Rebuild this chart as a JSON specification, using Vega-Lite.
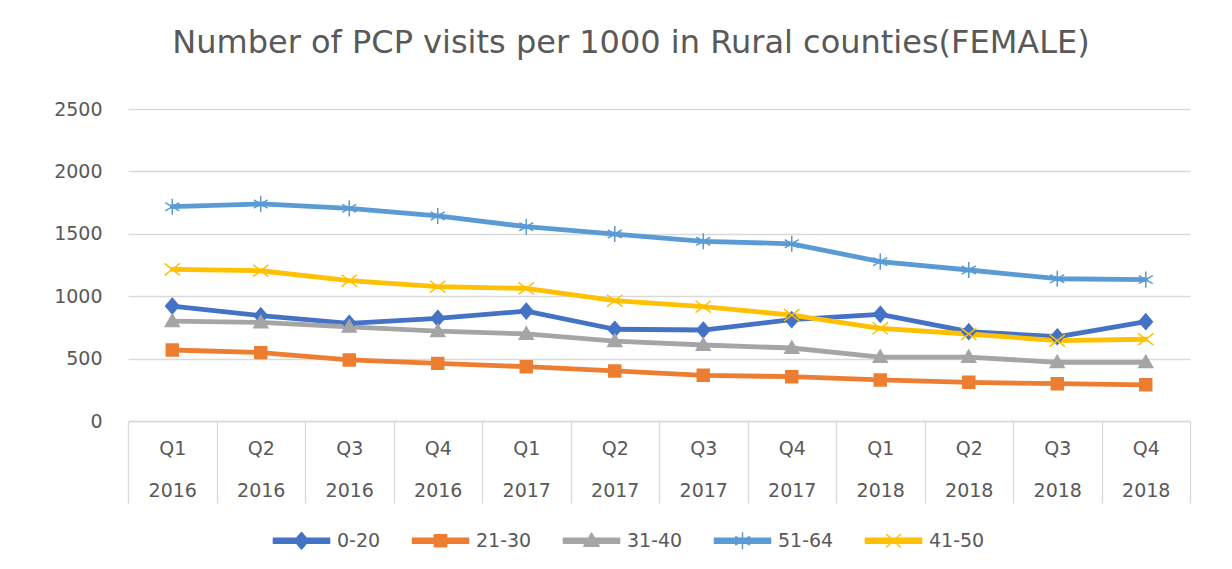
{
  "$schema": "https://vega.github.io/schema/vega-lite/v6.json",
  "autosize": {"type": "none"},
  "padding": {"left": 128, "top": 109, "right": 42, "bottom": 148},
  "width": 1062,
  "height": 312,
  "background": "white",
  "config": {
    "font": "DejaVu Sans",
    "view": {"stroke": null}
  },
  "title": {
    "text": "Number of PCP visits per 1000 in Rural counties(FEMALE)",
    "fontSize": 32,
    "font": "DejaVu Sans",
    "fontWeight": "normal",
    "color": "#595959",
    "anchor": "middle",
    "dx": -28,
    "offset": 40
  },
  "data": {
    "values": [
      {"period": "Q1 2016", "series": "0-20", "value": 921},
      {"period": "Q2 2016", "series": "0-20", "value": 844},
      {"period": "Q3 2016", "series": "0-20", "value": 783},
      {"period": "Q4 2016", "series": "0-20", "value": 823},
      {"period": "Q1 2017", "series": "0-20", "value": 881},
      {"period": "Q2 2017", "series": "0-20", "value": 735},
      {"period": "Q3 2017", "series": "0-20", "value": 729},
      {"period": "Q4 2017", "series": "0-20", "value": 812},
      {"period": "Q1 2018", "series": "0-20", "value": 855},
      {"period": "Q2 2018", "series": "0-20", "value": 716},
      {"period": "Q3 2018", "series": "0-20", "value": 675},
      {"period": "Q4 2018", "series": "0-20", "value": 796},
      {"period": "Q1 2016", "series": "21-30", "value": 569},
      {"period": "Q2 2016", "series": "21-30", "value": 548},
      {"period": "Q3 2016", "series": "21-30", "value": 489},
      {"period": "Q4 2016", "series": "21-30", "value": 462},
      {"period": "Q1 2017", "series": "21-30", "value": 435},
      {"period": "Q2 2017", "series": "21-30", "value": 401},
      {"period": "Q3 2017", "series": "21-30", "value": 366},
      {"period": "Q4 2017", "series": "21-30", "value": 355},
      {"period": "Q1 2018", "series": "21-30", "value": 329},
      {"period": "Q2 2018", "series": "21-30", "value": 310},
      {"period": "Q3 2018", "series": "21-30", "value": 299},
      {"period": "Q4 2018", "series": "21-30", "value": 290},
      {"period": "Q1 2016", "series": "31-40", "value": 800},
      {"period": "Q2 2016", "series": "31-40", "value": 790},
      {"period": "Q3 2016", "series": "31-40", "value": 755},
      {"period": "Q4 2016", "series": "31-40", "value": 720},
      {"period": "Q1 2017", "series": "31-40", "value": 698},
      {"period": "Q2 2017", "series": "31-40", "value": 640},
      {"period": "Q3 2017", "series": "31-40", "value": 609},
      {"period": "Q4 2017", "series": "31-40", "value": 585},
      {"period": "Q1 2018", "series": "31-40", "value": 512},
      {"period": "Q2 2018", "series": "31-40", "value": 512},
      {"period": "Q3 2018", "series": "31-40", "value": 470},
      {"period": "Q4 2018", "series": "31-40", "value": 470},
      {"period": "Q1 2016", "series": "51-64", "value": 1717},
      {"period": "Q2 2016", "series": "51-64", "value": 1739},
      {"period": "Q3 2016", "series": "51-64", "value": 1704},
      {"period": "Q4 2016", "series": "51-64", "value": 1643},
      {"period": "Q1 2017", "series": "51-64", "value": 1557},
      {"period": "Q2 2017", "series": "51-64", "value": 1498},
      {"period": "Q3 2017", "series": "51-64", "value": 1440},
      {"period": "Q4 2017", "series": "51-64", "value": 1420},
      {"period": "Q1 2018", "series": "51-64", "value": 1277},
      {"period": "Q2 2018", "series": "51-64", "value": 1210},
      {"period": "Q3 2018", "series": "51-64", "value": 1140},
      {"period": "Q4 2018", "series": "51-64", "value": 1133},
      {"period": "Q1 2016", "series": "41-50", "value": 1215},
      {"period": "Q2 2016", "series": "41-50", "value": 1204},
      {"period": "Q3 2016", "series": "41-50", "value": 1124},
      {"period": "Q4 2016", "series": "41-50", "value": 1076},
      {"period": "Q1 2017", "series": "41-50", "value": 1063},
      {"period": "Q2 2017", "series": "41-50", "value": 964},
      {"period": "Q3 2017", "series": "41-50", "value": 916},
      {"period": "Q4 2017", "series": "41-50", "value": 849},
      {"period": "Q1 2018", "series": "41-50", "value": 743},
      {"period": "Q2 2018", "series": "41-50", "value": 697},
      {"period": "Q3 2018", "series": "41-50", "value": 644},
      {"period": "Q4 2018", "series": "41-50", "value": 655}
    ]
  },
  "encoding": {
    "x": {
      "field": "period",
      "type": "ordinal",
      "sort": ["Q1 2016","Q2 2016","Q3 2016","Q4 2016","Q1 2017","Q2 2017","Q3 2017","Q4 2017","Q1 2018","Q2 2018","Q3 2018","Q4 2018"],
      "scale": {"type": "band", "paddingInner": 0, "paddingOuter": 0},
      "axis": {
        "title": null,
        "labelExpr": "isValid(datum.value) ? split(datum.value, ' ') : ''",
        "labelAngle": 0,
        "labelLineHeight": 42,
        "labelFontSize": 19,
        "labelFont": "DejaVu Sans",
        "labelColor": "#595959",
        "labelPadding": -64,
        "labelBaseline": "top",
        "domainColor": "#d9d9d9",
        "domainWidth": 1.3,
        "tickBand": "extent",
        "tickSize": 82,
        "tickColor": "#d9d9d9",
        "tickWidth": 1.3,
        "grid": false
      }
    },
    "y": {
      "field": "value",
      "type": "quantitative",
      "scale": {"domain": [0, 2500], "nice": false},
      "axis": {
        "title": null,
        "values": [0, 500, 1000, 1500, 2000, 2500],
        "format": "d",
        "domain": false,
        "ticks": false,
        "grid": true,
        "gridColor": "#d9d9d9",
        "gridWidth": 1.3,
        "labelFontSize": 19,
        "labelFont": "DejaVu Sans",
        "labelColor": "#595959",
        "labelPadding": 26
      }
    }
  },
  "layer": [
    {
      "mark": {"type": "line", "strokeWidth": 4.8, "strokeJoin": "round", "strokeCap": "round"},
      "encoding": {
        "color": {
          "field": "series",
          "type": "nominal",
          "sort": ["0-20", "21-30", "31-40", "51-64", "41-50"],
          "scale": {
            "domain": ["0-20", "21-30", "31-40", "51-64", "41-50"],
            "range": ["#4472C4", "#ED7D31", "#A5A5A5", "#5B9BD5", "#FFC000"]
          },
          "legend": {
            "title": null,
            "orient": "none",
            "direction": "horizontal",
            "legendX": 142,
            "legendY": 400,
            "symbolSize": 3721,
            "symbolStrokeWidth": 1.5,
            "labelFontSize": 19,
            "labelFont": "DejaVu Sans",
            "labelColor": "#595959",
            "labelOffset": 4,
            "columnPadding": 28,
            "encode": {
              "symbols": {
                "update": {
                  "shape": {"signal": "datum.value === '0-20' ? 'M-0.92,-0.08L0.92,-0.08L0.92,0.08L-0.92,0.08Z M0,-0.27L0.23,0L0,0.27L-0.23,0Z' : datum.value === '21-30' ? 'M-0.92,-0.08L0.92,-0.08L0.92,0.08L-0.92,0.08Z M-0.2,-0.2L0.2,-0.2L0.2,0.2L-0.2,0.2Z' : datum.value === '31-40' ? 'M-0.92,-0.08L0.92,-0.08L0.92,0.08L-0.92,0.08Z M0,-0.25L0.25,0.18L-0.25,0.18Z' : datum.value === '51-64' ? 'M-0.92,-0.08L0.92,-0.08L0.92,0.08L-0.92,0.08Z M0,-0.28L0,0.28 M-0.24,-0.14L0.24,0.14 M-0.24,0.14L0.24,-0.14' : 'M-0.92,-0.08L0.92,-0.08L0.92,0.08L-0.92,0.08Z M-0.24,-0.22L0.24,0.22 M-0.24,0.22L0.24,-0.22'"},
                  "fill": {"scale": "color", "field": "value"},
                  "stroke": {"scale": "color", "field": "value"},
                  "strokeWidth": {"value": 1.5},
                  "strokeJoin": {"value": "round"},
                  "opacity": {"value": 1}
                }
              }
            }
          }
        }
      }
    },
    {
      "transform": [{"filter": "datum.series === '0-20'"}],
      "mark": {"type": "point", "filled": true, "opacity": 1, "size": 196, "strokeWidth": 1.5, "fill": "#4472C4", "stroke": "#4472C4", "shape": "M0,-1.1L0.95,0L0,1.1L-0.95,0Z"}
    },
    {
      "transform": [{"filter": "datum.series === '21-30'"}],
      "mark": {"type": "point", "filled": true, "opacity": 1, "size": 196, "strokeWidth": 1.5, "fill": "#ED7D31", "stroke": "#ED7D31", "shape": "M-0.85,-0.85L0.85,-0.85L0.85,0.85L-0.85,0.85Z"}
    },
    {
      "transform": [{"filter": "datum.series === '31-40'"}],
      "mark": {"type": "point", "filled": true, "opacity": 1, "size": 196, "strokeWidth": 1.5, "fill": "#A5A5A5", "stroke": "#A5A5A5", "shape": "M0,-1L1,0.75L-1,0.75Z"}
    },
    {
      "transform": [{"filter": "datum.series === '51-64'"}],
      "mark": {"type": "point", "filled": false, "opacity": 1, "size": 196, "strokeWidth": 1.5, "stroke": "#5B9BD5", "shape": "M0,-1.15L0,1.15M-1,-0.58L1,0.58M-1,0.58L1,-0.58"}
    },
    {
      "transform": [{"filter": "datum.series === '41-50'"}],
      "mark": {"type": "point", "filled": false, "opacity": 1, "size": 196, "strokeWidth": 1.5, "stroke": "#FFC000", "shape": "M-1.1,-0.85L1.1,0.85M-1.1,0.85L1.1,-0.85"}
    }
  ]
}
